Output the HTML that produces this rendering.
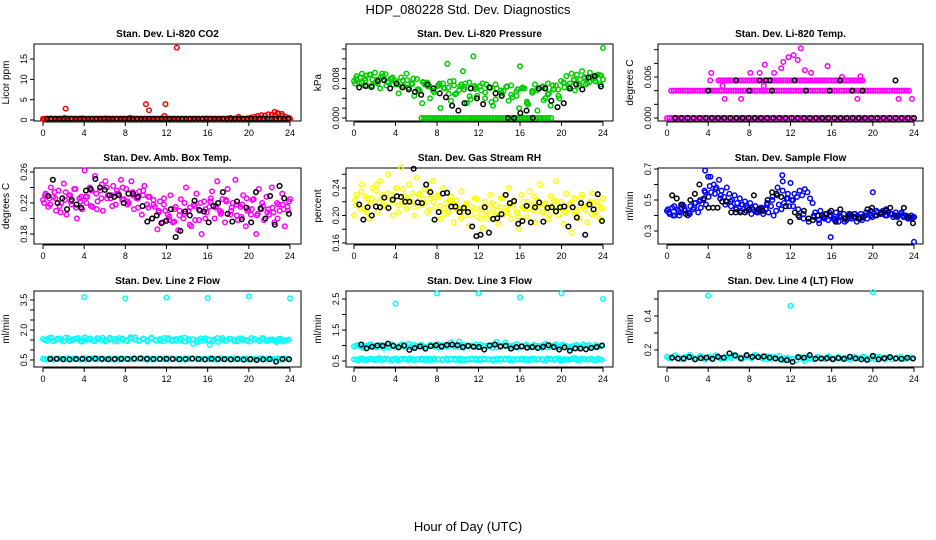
<!DOCTYPE html>
<html><head><meta charset="utf-8"><style>
body{margin:0;background:#fff;}
svg{display:block;font-family:"Liberation Sans",sans-serif;}
</style></head><body>
<svg id="c" width="936" height="540" viewBox="0 0 936 540">
<text x="468" y="14" text-anchor="middle" font-size="13">HDP_080228  Std. Dev. Diagnostics</text>
<text x="468" y="531" text-anchor="middle" font-size="13">Hour of Day (UTC)</text>
</svg>
<script>
// ---- data ----
const xTicks=[0,4,8,12,16,20,24];
const co2Red=[0.3,0.3,0.4,0.3,0.3,0.3,0.5,0.3,0.3,0.3,0.3,0.4,0.3,0.3,0.3,0.3,0.3,0.3,0.4,0.3,0.3,0.3,0.3,0.3,0.3,0.5,0.3,0.3,0.3,0.3,0.3,0.3,0.3,0.3,0.4,0.3,0.3,0.3,0.3,0.3,0.3,0.3,0.3,0.3,0.3,0.3,0.3,0.4,0.3,0.3,0.3,0.3,0.3,0.3,0.5,0.3,0.3,0.3,0.3,0.4,0.6,0.8,1.0,1.2,1.1,1.4,1.3,1.2,1.5,1.0,0.8,0.5];
const co2RedBase=new Array(110).fill(0.3);
const co2OutHours=[2.2,10.0,10.3,11.9,11.8,13.0,22.5,22.8,23.2,19.0];
const co2OutVals=[2.8,3.9,2.4,3.9,1.0,17.8,2.0,1.7,1.5,0.8];
const co2Black=new Array(60).fill(0.3);
const co2Ticks=[0,5,10,15];

const presGreen=[.0075,.0085,.0070,.0090,.0080,.0065,.0088,.0078,.0092,.0070,.0060,.0083,.0089,.0072,.0080,.0068,.0075,.0050,.0082,.0065,.0090,.0060,.0070,.0045,.0079,.0055,.0030,.0068,.0072,.0040,.0060,.0000,.0065,.0020,.0070,.0000,.0062,.0035,.0075,.0050,.0000,.0068,.0058,.0030,.0072,.0000,.0065,.0045,.0000,.0070,.0040,.0000,.0062,.0025,.0068,.0000,.0050,.0055,.0000,.0035,.0066,.0000,.0045,.0020,.0000,.0060,.0030,.0000,.0055,.0068,.0015,.0000,.0064,.0040,.0070,.0025,.0058,.0066,.0045,.0075,.0072,.0085,.0060,.0090,.0078,.0088,.0065,.0095,.0080,.0070,.0092,.0084,.0075,.0088,.0068,.0078];
const presGreen2=[.0080,.0072,.0086,.0066,.0078,.0090,.0074,.0082,.0068,.0076,.0062,.0080,.0058,.0072,.0066,.0052,.0070,.0060,.0074,.0048,.0064,.0070,.0038,.0062,.0056,.0068,.0032,.0060,.0050,.0064,.0042,.0058,.0062,.0028,.0054,.0060,.0036,.0050,.0058,.0040,.0062,.0070,.0056,.0078,.0068,.0082,.0074,.0086];
const presGreen3=[.0070,.0082,.0076,.0088,.0072,.0084,.0066,.0079,.0071,.0063,.0077,.0069,.0058,.0073,.0064,.0055,.0067,.0061,.0049,.0066,.0057,.0063,.0044,.0059,.0065,.0052,.0061,.0038,.0056,.0063,.0047,.0054,.0060,.0033,.0051,.0057,.0062,.0048,.0066,.0058,.0071,.0064,.0077,.0069,.0083,.0073,.0080,.0087];
const presZero=new Array(50).fill(0);
const presOutHours=[9.0,11.5,10.5,16.0,24.0];
const presOutVals=[.0110,.0125,.0095,.0105,.0142];
const presBlack=[.0062,.0065,.0063,.0075,.0077,.0060,.0070,.0062,.0058,.0053,.0047,.0068,.0060,.0050,.0042,.0025,.0015,.0030,.0060,.0040,.0028,.0062,.0050,.0045,.0000,.0000,.0010,.0015,.0000,.0060,.0060,.0035,.0022,.0030,.0060,.0068,.0058,.0082,.0085,.0064];
const presTicks=[0,.002,.004,.006,.008,.010,.012,.014];
const presLabels=["0.000","","","","0.008","","",""];

const tempZero=new Array(110).fill(0);
const tempMid=new Array(100).fill(0.004);
const tempHigh=new Array(70).fill(0.0055);
const tempScatHours=[4.3,4.2,5.4,5.6,7.2,8.1,9.0,9.5,9.4,10.4,11.1,11.3,11.8,12.3,12.7,13.0,13.4,14.0,15.6,17.0,18.5,18.8,22.5,23.8];
const tempScatVals=[.0066,.0055,.0047,.0028,.0028,.0066,.0066,.0078,.0047,.0066,.0073,.0082,.0089,.0092,.0085,.0102,.0070,.0066,.0076,.0060,.0028,.0061,.0028,.0028];
const tempBlackZero=new Array(40).fill(0);
const tempBlackMidHours=[4,8,10.2,13.5,15.8,18,19];
const tempBlackHighHours=[6.7,9.0,9.6,10.0,12.4,16.8,22.2];
const tempTicks=[0,.002,.004,.006,.008,.010];
const tempLabels=["0.000","","","0.006","",""];

const ambMag=[.224,.232,.215,.240,.228,.210,.236,.220,.245,.205,.230,.218,.238,.200,.226,.212,.262,.228,.240,.215,.255,.222,.236,.210,.248,.230,.226,.242,.218,.232,.250,.225,.238,.220,.248,.212,.226,.235,.205,.242,.218,.228,.200,.215,.186,.222,.195,.210,.205,.230,.195,.215,.185,.225,.200,.240,.210,.190,.218,.232,.198,.180,.222,.208,.215,.235,.200,.248,.210,.225,.195,.238,.205,.220,.250,.198,.215,.230,.190,.212,.205,.225,.180,.238,.212,.198,.228,.205,.240,.195,.220,.210,.232,.190,.215,.225];
const ambMag2=[.230,.218,.226,.208,.234,.222,.214,.228,.220,.236,.212,.244,.226,.216,.232,.240,.222,.230,.214,.236,.228,.218,.210,.226,.198,.212,.204,.220,.192,.216,.210,.200,.222,.214,.206,.224,.210,.218,.202,.226,.212,.204,.220,.208,.214,.200,.218,.210];
const ambMag3=[.220,.226,.234,.216,.224,.230,.238,.222,.228,.216,.232,.226,.240,.230,.236,.224,.218,.234,.226,.230,.214,.224,.208,.218,.202,.196,.210,.206,.214,.198,.220,.212,.226,.216,.208,.222,.214,.204,.218,.210,.224,.206,.216,.212,.208,.218,.212,.222];
const ambBlack=[.229,.250,.220,.226,.212,.224,.218,.214,.236,.238,.251,.240,.237,.230,.228,.230,.220,.232,.232,.228,.216,.196,.200,.204,.194,.197,.212,.176,.184,.209,.204,.223,.211,.209,.195,.216,.220,.234,.206,.196,.222,.199,.214,.195,.234,.213,.200,.229,.192,.242,.226,.206];
const ambTicks=[.18,.20,.22,.24,.26];
const ambLabels=["0.18","","0.22","","0.26"];

const rhYel=[.200,.230,.215,.245,.210,.225,.195,.240,.220,.205,.250,.230,.215,.260,.225,.200,.240,.215,.270,.228,.210,.245,.220,.200,.255,.232,.215,.238,.205,.225,.250,.212,.230,.195,.240,.218,.205,.228,.190,.222,.210,.235,.200,.218,.185,.212,.225,.198,.208,.182,.220,.195,.230,.205,.215,.188,.225,.200,.212,.240,.195,.222,.205,.180,.230,.210,.198,.235,.215,.190,.222,.245,.205,.218,.195,.228,.210,.250,.200,.220,.188,.232,.210,.175,.225,.205,.195,.230,.212,.190,.220,.232,.200,.215,.195,.225];
const rhYel2=[.215,.235,.205,.225,.245,.215,.232,.220,.205,.238,.222,.212,.230,.218,.208,.226,.214,.202,.220,.210,.196,.216,.206,.224,.212,.200,.218,.208,.226,.204,.214,.198,.220,.210,.228,.206,.216,.200,.222,.212,.204,.218,.208,.226,.214,.202,.220,.210];
const rhYel3=[.222,.210,.228,.218,.236,.224,.212,.230,.240,.218,.226,.232,.214,.224,.236,.220,.228,.210,.222,.216,.206,.214,.200,.210,.196,.206,.214,.202,.212,.208,.218,.204,.212,.220,.208,.216,.204,.212,.220,.210,.206,.216,.202,.214,.208,.218,.204,.212];
const rhBlack=[.216,.194,.212,.200,.213,.212,.226,.211,.223,.228,.227,.220,.220,.268,.219,.218,.245,.234,.194,.205,.232,.233,.213,.213,.205,.211,.205,.184,.170,.172,.212,.175,.195,.196,.202,.230,.218,.221,.188,.192,.214,.190,.212,.219,.191,.211,.212,.206,.212,.213,.184,.212,.197,.218,.172,.216,.209,.231,.192];
const rhTicks=[.16,.18,.20,.22,.24,.26];
const rhLabels=["0.16","","0.20","","0.24",""];

const sfBlue=[.43,.41,.45,.40,.44,.42,.47,.43,.40,.46,.44,.48,.42,.45,.50,.47,.52,.55,.60,.58,.63,.56,.52,.58,.54,.50,.53,.48,.51,.47,.49,.45,.48,.44,.46,.42,.45,.41,.44,.42,.46,.40,.43,.47,.44,.48,.51,.46,.50,.54,.52,.56,.53,.57,.55,.51,.48,.42,.40,.43,.39,.41,.37,.40,.38,.42,.36,.39,.41,.37,.40,.38,.41,.36,.39,.37,.40,.38,.41,.39,.40,.42,.41,.43,.40,.42,.41,.39,.42,.40,.41,.39,.40,.38,.40,.39];
const sfBlue2=[.42,.46,.40,.44,.41,.48,.50,.55,.65,.57,.53,.49,.46,.44,.47,.43,.45,.42,.44,.48,.52,.58,.62,.54,.50,.44,.41,.38,.40,.37,.39,.42,.38,.40,.36,.39,.41,.38,.40,.43,.40,.42,.44,.41,.40,.42,.39,.38];
const sfBlue3=[.44,.40,.43,.46,.42,.45,.49,.56,.59,.54,.51,.47,.49,.45,.43,.46,.41,.43,.45,.47,.50,.53,.56,.51,.46,.40,.38,.36,.39,.35,.38,.40,.37,.39,.38,.40,.39,.41,.42,.40,.43,.41,.40,.41,.39,.40,.38,.39];
const sfOutHours=[3.7,4.0,11.2,12.0,15.9,20.0,24.0];
const sfOutVals=[.69,.65,.66,.61,.26,.55,.23];
const sfBlack=[.53,.51,.47,.41,.50,.54,.60,.51,.45,.45,.45,.49,.49,.42,.42,.42,.42,.44,.53,.44,.43,.50,.55,.54,.52,.46,.36,.42,.39,.43,.38,.37,.40,.40,.41,.43,.36,.44,.38,.41,.39,.38,.39,.44,.45,.40,.42,.43,.45,.40,.35,.45,.39,.35];
const sfTicks=[.3,.4,.5,.6,.7];
const sfLabels=["0.3","","0.5","","0.7"];

const l2Upper=[1.55,1.45,1.62,1.50,1.58,1.42,1.60,1.48,1.56,1.44,1.63,1.52,1.47,1.59,1.50,1.43,1.61,1.55,1.46,1.58,1.49,1.64,1.52,1.45,1.57,1.50,1.62,1.48,1.55,1.44,1.60,1.51,1.47,1.58,1.42,1.55,1.30,1.50,1.45,1.58,1.25,1.52,1.40,1.60,1.48,1.55,1.43,1.58,1.50,1.46,1.60,1.52,1.44,1.57,1.49,1.53,1.40,1.56,1.47,1.52];
const l2Upper2=[1.50,1.60,1.44,1.56,1.48,1.62,1.46,1.54,1.60,1.42,1.52,1.58,1.45,1.55,1.61,1.47,1.53,1.43,1.59,1.51,1.45,1.57,1.62,1.48,1.54,1.42,1.58,1.50,1.46,1.60,1.52,1.44,1.56,1.49,1.62,1.46,1.54,1.40,1.58,1.48,1.52,1.44,1.60,1.50,1.46,1.56,1.52,1.44,1.58,1.50,1.42,1.55,1.48,1.60,1.45,1.52,1.47,1.55,1.43,1.50];
const l2Lower=[.56,.52,.58,.54,.57,.53,.59,.55,.56,.52,.58,.54,.57,.53,.56,.55,.58,.52,.57,.54,.56,.53,.58,.55,.57,.52,.56,.54,.58,.53,.57,.55,.56,.52,.58,.54,.57,.53,.56,.55,.58,.52,.57,.54,.56,.53,.58,.55,.57,.52,.56,.54,.58,.53,.57,.55,.56,.52,.58,.54];
const l2Black=[.55,.56,.54,.53,.55,.56,.55,.57,.56,.54,.55,.56,.55,.57,.58,.56,.55,.55,.56,.55,.54,.55,.57,.55,.53,.56,.55,.54,.53,.55,.52,.54,.50,.53,.54,.42,.55,.54];
const l2OutHours=[4,8,12,16,20,24];
const l2OutVals=[3.65,3.58,3.62,3.60,3.68,3.58];
const l2Ticks=[.5,1,1.5,2,2.5,3,3.5];
const l2Labels=["0.5","","","2.0","","","3.5"];

const l3Upper=[.97,1.02,.93,.99,1.04,.95,1.00,.92,.98,1.03,.94,1.01,.96,1.05,.93,.99,1.02,.95,1.00,.97,1.04,.94,.99,1.01,.96,1.12,.93,1.00,.98,1.03,.95,1.00,.97,1.02,.94,.99,1.10,.96,1.01,.93,.98,1.03,.95,1.00,.97,1.02,.94,.99,1.04,.96,1.00,.93,.98,1.02,.95,.99,1.01,.96,.98,1.00];
const l3Lower=[.55,.52,.58,.54,.57,.53,.59,.55,.56,.52,.58,.54,.57,.53,.56,.55,.58,.52,.57,.54,.56,.53,.58,.55,.57,.52,.56,.54,.58,.53,.57,.55,.56,.52,.58,.54,.57,.53,.56,.55,.58,.52,.57,.54,.56,.53,.58,.55,.57,.52,.56,.54,.58,.53,.57,.55,.56,.52,.58,.54];
const l3Black=[1.03,.91,.96,1.00,.99,1.06,.99,.94,1.00,.86,.92,.97,.90,.98,1.01,.97,1.02,1.03,1.01,.95,.99,.96,.95,.87,1.00,1.03,.97,.99,.90,.95,.97,.93,.95,.92,.96,1.01,.95,.87,.94,.83,.91,.90,.88,.92,.95,1.00];
const l3OutHours=[4,8,12,16,20,24];
const l3OutVals=[2.35,2.68,2.68,2.55,2.68,2.50];
const l3Ticks=[.5,1,1.5,2,2.5];
const l3Labels=["0.5","","1.5","","2.5"];

const l4Cyan=[.160,.150,.168,.155,.145,.162,.158,.148,.165,.152,.160,.145,.167,.155,.150,.162,.170,.158,.148,.165,.155,.172,.160,.150,.163,.147,.158,.166,.152,.145,.150,.140,.158,.136,.152,.148,.160,.150,.145,.155,.150,.160,.148,.155,.145,.158,.152,.162,.148,.155,.145,.160,.150,.158,.145,.155,.150,.148,.155,.150];
const l4Cyan2=[.152,.166,.146,.158,.170,.150,.162,.144,.156,.168,.148,.160,.152,.164,.146,.158,.150,.166,.154,.146,.160,.150,.140,.154,.146,.158,.148,.162,.144,.156,.150,.164,.146,.158,.152,.144,.160,.150,.156,.146,.162,.150,.144,.158,.152,.160,.148,.156];
const l4Black=[.155,.150,.150,.158,.145,.152,.155,.148,.160,.155,.180,.168,.152,.170,.160,.158,.162,.155,.150,.145,.140,.130,.158,.155,.170,.148,.150,.152,.146,.152,.148,.160,.150,.145,.142,.165,.145,.152,.158,.150,.148,.154,.150];
const l4OutHours=[4,12,20];
const l4OutVals=[.52,.46,.54];
const l4Ticks=[.2,.3,.4,.5];
const l4Labels=["0.2","","0.4",""];

// ---- rendering ----
const NS="http://www.w3.org/2000/svg";
const svg=document.getElementById('c');
const COLS=[{l:34,r:301,x0:43,x24:290},{l:346,r:613,x0:354,x24:603},{l:658,r:923,x0:667,x24:914}];
const ROWS=[{t:44,b:121},{t:168,b:244},{t:291,b:367}];
function mk(tag,attrs,parent){const e=document.createElementNS(NS,tag);for(const k in attrs)e.setAttribute(k,attrs[k]);(parent||svg).appendChild(e);return e;}
function span(n,a,b){const h=[];for(let i=0;i<n;i++)h.push(n===1?a:a+(b-a)*i/(n-1));return h;}
function panel(ci,ri,title,ylab,vmin,px0,vref,pxref,ticks,labels,name){
  const c=COLS[ci],r=ROWS[ri];
  const g=mk('g',{});
  
  
  const xs=h=>c.x0+(c.x24-c.x0)*h/24;
  const ys=v=>px0+(pxref-px0)*(v-vmin)/(vref-vmin);
  const box=mk('rect',{x:c.l,y:r.t,width:c.r-c.l,height:r.b-r.t,fill:'none',stroke:'#000','stroke-width':1},g);
  
  
  const t=mk('text',{x:(c.l+c.r)/2,y:r.t-7,'text-anchor':'middle','font-size':10,'font-weight':'bold'},g);
  t.textContent=title;
  
  
  const yl=mk('text',{transform:`translate(${c.l-25},${(r.t+r.b)/2}) rotate(-90)`,'text-anchor':'middle','font-size':10},g);
  yl.textContent=ylab;
  
  
  const xa=mk('g',{},g);
  
  
  mk('line',{x1:xs(0),x2:xs(24),y1:r.b+1,y2:r.b+1,stroke:'#000'},xa);
  xTicks.forEach(h=>{mk('line',{x1:xs(h),x2:xs(h),y1:r.b+1,y2:r.b+5,stroke:'#000'},xa);
    const tt=mk('text',{x:xs(h),y:r.b+15,'text-anchor':'middle','font-size':9},xa);tt.textContent=h;});
  const ya=mk('g',{},g);
  
  
  mk('line',{x1:c.l,x2:c.l,y1:ys(ticks[0]),y2:ys(ticks[ticks.length-1]),stroke:'#000'},ya);
  ticks.forEach((v,i)=>{const y=ys(v);mk('line',{x1:c.l-4,x2:c.l,y1:y,y2:y,stroke:'#000'},ya);
    if(labels[i]){const tt=mk('text',{transform:`translate(${c.l-7},${y}) rotate(-90)`,'text-anchor':'middle','font-size':9},ya);tt.textContent=labels[i];}});
  const pts=mk('g',{},g);
  
  
  return {add(hours,vals,color,sname){
    const sg=mk('g',{fill:'none',stroke:color,'stroke-width':1.5},pts);
    
    
    vals.forEach((v,i)=>{const y=ys(v);if(y<r.t-1||y>r.b+1)return;mk('circle',{cx:xs(hours[i]),cy:y,r:2.3},sg);});
  }};
}
const RED='#ff0000',GRN='#00cd00',MAG='#ff00ff',YEL='#ffff00',BLU='#0000ff',CYN='#00ffff',BLK='#000000';
let p;
p=panel(0,0,'Stan. Dev. Li-820 CO2','Licor ppm',0,120,15,59,co2Ticks,co2Ticks.map(String),'co2');
p.add(span(co2RedBase.length,0,24),co2RedBase,RED,'red-base');
p.add(span(co2Red.length,0.1,23.9),co2Red,RED,'red-series');
p.add(co2OutHours,co2OutVals,RED,'red-outliers');
p.add(span(co2Black.length,0.4,23.8),co2Black,BLK,'black-series');

p=panel(1,0,'Stan. Dev. Li-820 Pressure','kPa',0,118,0.014,49,presTicks,presLabels,'pressure');
p.add(span(presGreen.length,0,24),presGreen,GRN,'green-series');
p.add(span(presGreen2.length,0.2,23.8),presGreen2,GRN,'green-series-2');
p.add(span(presGreen3.length,0.1,23.7),presGreen3,GRN,'green-series-3');
p.add(span(presZero.length,6.5,19),presZero,GRN,'green-zero-row');
p.add(presOutHours,presOutVals,GRN,'green-outliers');
p.add(span(presBlack.length,0.5,23.8),presBlack,BLK,'black-series');

p=panel(2,0,'Stan. Dev. Li-820 Temp.','degrees C',0,118,0.006,77,tempTicks,tempLabels,'temp');
p.add(span(tempZero.length,0,24),tempZero,MAG,'magenta-zero');
p.add(span(tempMid.length,0.4,23.5),tempMid,MAG,'magenta-mid');
p.add(span(tempHigh.length,5,19),tempHigh,MAG,'magenta-high');
p.add(tempScatHours,tempScatVals,MAG,'magenta-scatter');
p.add(span(tempBlackZero.length,0.8,24),tempBlackZero,BLK,'black-zero');
p.add(tempBlackMidHours,tempBlackMidHours.map(()=>0.004),BLK,'black-mid');
p.add(tempBlackHighHours,tempBlackHighHours.map(()=>0.0055),BLK,'black-high');

p=panel(0,1,'Stan. Dev. Amb. Box Temp.','degrees C',0.18,234,0.26,172,ambTicks,ambLabels,'amb-temp');
p.add(span(ambMag.length,0,24),ambMag,MAG,'magenta-series');
p.add(span(ambMag2.length,0.2,23.8),ambMag2,MAG,'magenta-series-2');
p.add(span(ambMag3.length,0.1,23.9),ambMag3,MAG,'magenta-series-3');
p.add(span(ambBlack.length,0.5,23.9),ambBlack,BLK,'black-series');

p=panel(1,1,'Stan. Dev. Gas Stream RH','percent',0.16,243,0.24,188,rhTicks,rhLabels,'rh');
p.add(span(rhYel.length,0,24),rhYel,YEL,'yellow-series');
p.add(span(rhYel2.length,0.2,23.9),rhYel2,YEL,'yellow-series-2');
p.add(span(rhYel3.length,0.1,23.8),rhYel3,YEL,'yellow-series-3');
p.add(span(rhBlack.length,0.5,23.9),rhBlack,BLK,'black-series');

p=panel(2,1,'Stan. Dev. Sample Flow','ml/min',0.3,231,0.7,169,sfTicks,sfLabels,'sample-flow');
p.add(span(sfBlue.length,0,24),sfBlue,BLU,'blue-series');
p.add(span(sfBlue2.length,0.2,23.8),sfBlue2,BLU,'blue-series-2');
p.add(span(sfBlue3.length,0.1,23.9),sfBlue3,BLU,'blue-series-3');
p.add(sfOutHours,sfOutVals,BLU,'blue-outliers');
p.add(span(sfBlack.length,0.5,23.9),sfBlack,BLK,'black-series');

p=panel(0,2,'Stan. Dev. Line 2 Flow','ml/min',0.5,360,3.5,300,l2Ticks,l2Labels,'line2');
p.add(span(l2Upper.length,0,23.9),l2Upper,CYN,'cyan-upper');
p.add(span(l2Upper2.length,0.2,23.7),l2Upper2,CYN,'cyan-upper-2');
p.add(span(l2Lower.length,0,23.9),l2Lower,CYN,'cyan-lower');
p.add(span(l2Lower.length,0.2,23.7),l2Lower.slice().reverse(),CYN,'cyan-lower-2');
p.add(l2OutHours,l2OutVals,CYN,'cyan-outliers');
p.add(span(l2Black.length,0.7,23.9),l2Black,BLK,'black-series');

p=panel(1,2,'Stan. Dev. Line 3 Flow','ml/min',0.5,361,2.5,299,l3Ticks,l3Labels,'line3');
p.add(span(l3Upper.length,0,23.9),l3Upper,CYN,'cyan-upper');
p.add(span(l3Upper.length,0.2,23.7),l3Upper.slice().reverse(),CYN,'cyan-upper-2');
p.add(span(l3Lower.length,0,23.9),l3Lower,CYN,'cyan-lower');
p.add(span(l3Lower.length,0.2,23.7),l3Lower.slice().reverse(),CYN,'cyan-lower-2');
p.add(l3OutHours,l3OutVals,CYN,'cyan-outliers');
p.add(span(l3Black.length,0.7,23.9),l3Black,BLK,'black-series');

p=panel(2,2,'Stan. Dev. Line 4 (LT) Flow','ml/min',0.2,350,0.4,316,l4Ticks,l4Labels,'line4');
p.add(span(l4Cyan.length,0,23.9),l4Cyan,CYN,'cyan-series');
p.add(span(l4Cyan2.length,0.2,23.7),l4Cyan2,CYN,'cyan-series-2');
p.add(l4OutHours,l4OutVals,CYN,'cyan-outliers');
p.add(span(l4Black.length,0.5,23.9),l4Black,BLK,'black-series');
</script>
</body></html>
